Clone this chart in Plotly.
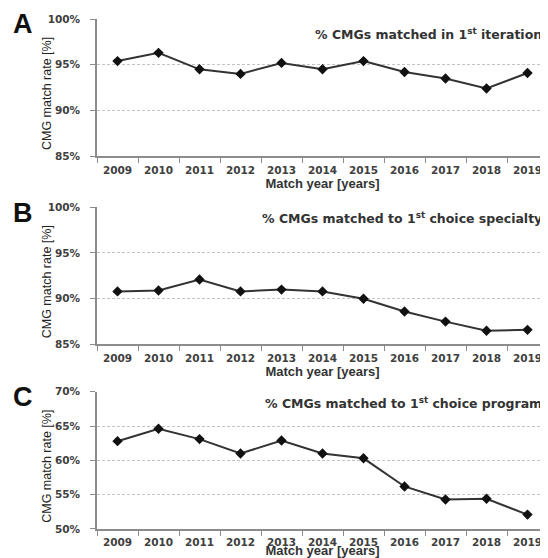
import plotly.graph_objects as go
from plotly.subplots import make_subplots

years = ["2009", "2010", "2011", "2012", "2013", "2014", "2015", "2016", "2017", "2018", "2019"]
first_iteration = [95.4, 96.3, 94.5, 94.0, 95.2, 94.5, 95.4, 94.2, 93.5, 92.4, 94.1]
first_choice_specialty = [90.8, 90.9, 92.1, 90.8, 91.0, 90.8, 90.0, 88.6, 87.5, 86.5, 86.6]
first_choice_program = [62.8, 64.6, 63.1, 61.0, 62.9, 61.0, 60.3, 56.2, 54.3, 54.4, 52.1]

panel_letters = ["A", "B", "C"]
panel_titles = [
    "% CMGs matched in 1<sup>st</sup> iteration",
    "% CMGs matched to 1<sup>st</sup> choice specialty",
    "% CMGs matched to 1<sup>st</sup> choice program",
]
y_title = "CMG match rate [%]"
x_title = "Match year [years]"
y_ranges = [[85, 100], [85, 100], [50, 70]]
y_ticks = [[85, 90, 95, 100], [85, 90, 95, 100], [50, 55, 60, 65, 70]]
series = [first_iteration, first_choice_specialty, first_choice_program]

fig = make_subplots(rows=3, cols=1)

tick_font = dict(family="DejaVu Sans", size=10.5, color="#404040", weight="bold")
domains = [[0.7309, 1.0], [0.3618, 0.6309], [0.0, 0.2691]]
title_y = [0.89, 0.92, 0.92]

for i in range(3):
    r = i + 1
    fig.add_trace(
        go.Scatter(
            x=years, y=series[i], mode="lines+markers",
            line=dict(color="#333333", width=2),
            marker=dict(symbol="diamond", size=8, color="#111111"),
            showlegend=False, cliponaxis=False,
        ),
        row=r, col=1,
    )
    fig.update_xaxes(
        type="category", tickson="boundaries", ticks="outside", ticklen=5,
        tickcolor="#8c8c8c", showline=True, linecolor="#8c8c8c", linewidth=1.5,
        showgrid=False, tickfont=tick_font, domain=[0, 1], ticklabelstandoff=3,
        title=dict(text=x_title, standoff=0,
                   font=dict(family="Liberation Sans", size=13, color="#333333", weight="bold")),
        range=[-0.5, 10.5],
        row=r, col=1,
    )
    fig.update_yaxes(
        range=y_ranges[i], tickvals=y_ticks[i],
        ticktext=[f"{v}%" for v in y_ticks[i]],
        ticks="outside", ticklen=5, tickcolor="#8c8c8c",
        showline=True, linecolor="#8c8c8c", linewidth=1.5,
        showgrid=True, gridcolor="#c4c4c4", gridwidth=1, griddash="3px,2px",
        tickfont=tick_font, ticklabelstandoff=8, domain=domains[i],
        zeroline=False,
        row=r, col=1,
    )
    xd = "x domain" if i == 0 else f"x{r} domain"
    yd = "y domain" if i == 0 else f"y{r} domain"
    fig.add_annotation(
        text=y_title, xref=xd, yref=yd, x=-0.111, y=0.46, textangle=-90,
        xanchor="center", yanchor="middle", showarrow=False,
        font=dict(family="Liberation Sans", size=12.5, color="#222222"),
    )
    fig.add_annotation(
        text=panel_titles[i], xref=xd, yref=yd, x=1, y=title_y[i],
        xanchor="right", yanchor="middle", xshift=-4, showarrow=False,
        font=dict(family="DejaVu Sans", size=12.5, color="#333333", weight="bold"),
    )
    fig.add_annotation(
        text=panel_letters[i], xref=xd, yref=yd, x=-0.165, y=0.96,
        xanchor="center", yanchor="middle", showarrow=False,
        font=dict(family="Liberation Sans", size=27, color="#111111", weight="bold"),
    )

# page body adds an 8px margin; size the figure so it ends at the window edge
fig.update_layout(
    width=540, height=550,
    margin=dict(l=89, r=0, t=11, b=29),
    paper_bgcolor="white", plot_bgcolor="white",
)

fig.write_html("out.html")
